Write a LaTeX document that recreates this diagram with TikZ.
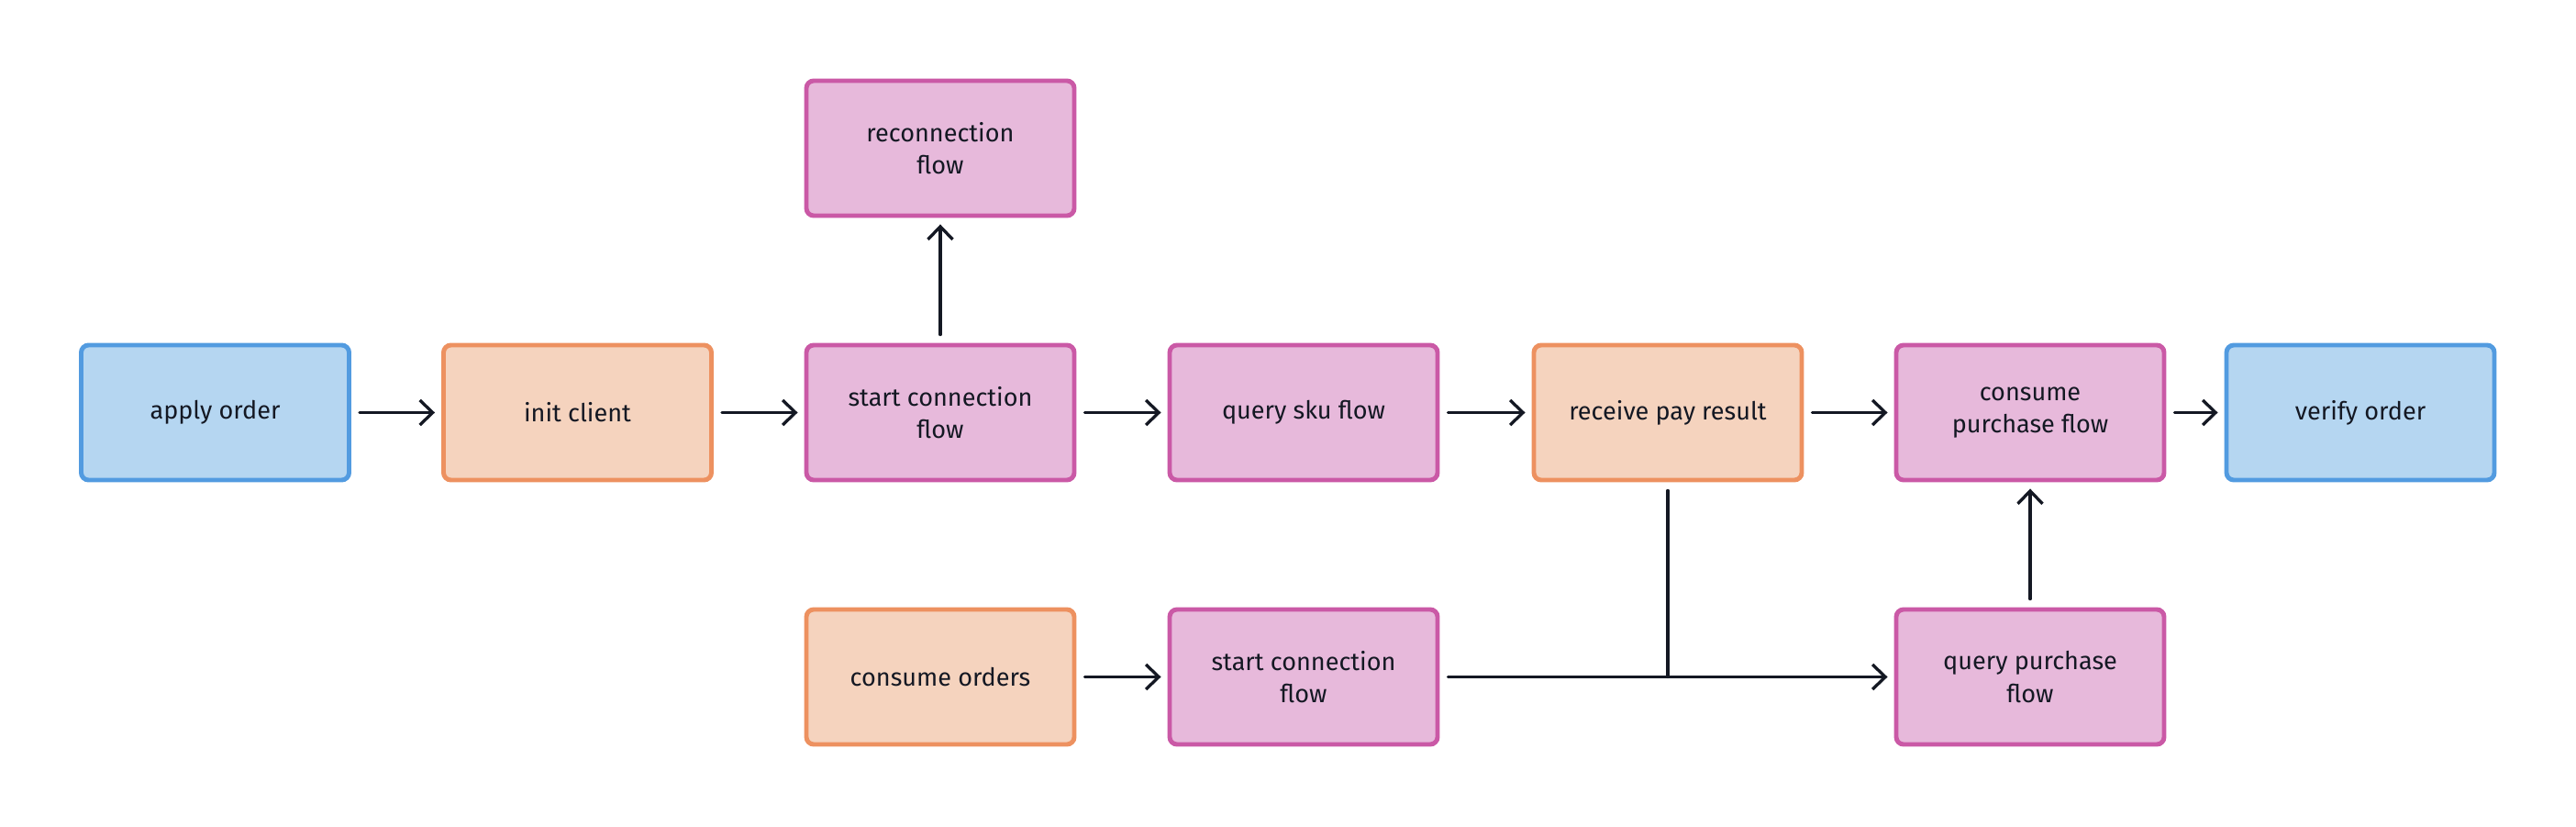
\documentclass[tikz,border=0pt]{standalone}
\usepackage{fontspec}
\setmainfont{Fira Sans}
\usetikzlibrary{arrows.meta}

\definecolor{inkline}{RGB}{20,24,35}
\definecolor{blueline}{RGB}{82,155,224}
\definecolor{bluefill}{RGB}{181,214,241}
\definecolor{orangeline}{RGB}{237,145,96}
\definecolor{orangefill}{RGB}{245,211,190}
\definecolor{pinkline}{RGB}{202,89,166}
\definecolor{pinkfill}{RGB}{231,185,219}

\tikzset{
  box/.style={rectangle, rounded corners=0.8mm, line width=1.4pt,
    minimum width=2.92cm, minimum height=1.47cm, align=center,
    text=inkline, font=\fontsize{7.7}{10}\selectfont},
  endbox/.style={box, draw=blueline, fill=bluefill},
  stepbox/.style={box, draw=orangeline, fill=orangefill},
  flowbox/.style={box, draw=pinkline, fill=pinkfill},
  link/.style={draw=inkline, line width=0.95pt, line cap=round,
    shorten <=0.09cm, shorten >=0.07cm},
  arrow/.style={link, -{Straight Barb[length=1.4mm, width=2.7mm, line width=0.95pt]}}
}

\begin{document}
\begin{tikzpicture}
    \useasboundingbox (0,0) rectangle (28.08,9);

    % === Main row ===
    \node[endbox]  (apply)   at (2.345,4.505) {apply order};
    \node[stepbox] (init)    at (6.295,4.505) {init client};
    \node[flowbox] (start)   at (10.25,4.505) {start connection\\flow};
    \node[flowbox] (qsku)    at (14.21,4.505) {query sku flow};
    \node[stepbox] (recv)    at (18.18,4.505) {receive pay result};
    \node[flowbox] (consume) at (22.13,4.505) {consume\\purchase flow};
    \node[endbox]  (verify)  at (25.73,4.505) {verify order};

    % === Top ===
    \node[flowbox] (reconn)  at (10.25,7.385) {reconnection\\flow};

    % === Bottom row ===
    \node[stepbox] (corders) at (10.25,1.625) {consume orders};
    \node[flowbox] (start2)  at (14.21,1.625) {start connection\\flow};
    \node[flowbox] (qpurch)  at (22.13,1.625) {query purchase\\flow};

    % Arrows
    \draw[arrow] (apply) -- (init);
    \draw[arrow] (init) -- (start);
    \draw[arrow] (start) -- (qsku);
    \draw[arrow] (qsku) -- (recv);
    \draw[arrow] (recv) -- (consume);
    \draw[arrow] (consume) -- (verify);
    \draw[arrow] (start) -- (reconn);
    \draw[arrow] (corders) -- (start2);
    \draw[arrow] (start2) -- (qpurch);
    \draw[arrow] (qpurch) -- (consume);

    % Join from receive pay result
    \coordinate (J) at (recv.south |- start2.east);
    \draw[link, shorten >=0pt] (recv.south) -- (J);
\end{tikzpicture}
\end{document}
